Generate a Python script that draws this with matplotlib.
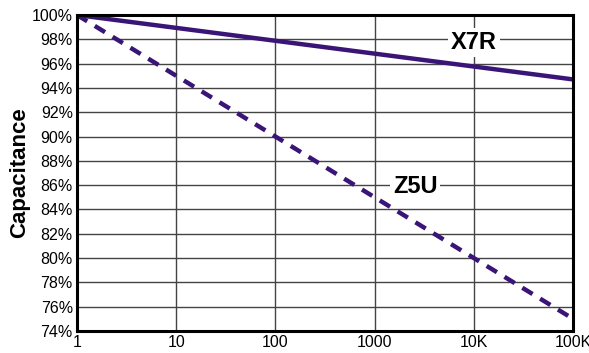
import matplotlib
matplotlib.use("Agg")
import matplotlib.pyplot as plt
from matplotlib.ticker import FixedLocator, FixedFormatter, NullLocator

# Data
hours = [1, 100000]
x7r = [100.0, 94.7]
z5u = [100.0, 75.0]
x_ticks = [1, 10, 100, 1000, 10000, 100000]
x_tick_labels = ["1", "10", "100", "1000", "10K", "100K"]
y_ticks = list(range(74, 101, 2))
y_tick_labels = [f"{v}%" for v in y_ticks]

plt.rcParams["font.family"] = ["Liberation Sans", "DejaVu Sans"]
line_color = "#3a1577"

fig = plt.figure(figsize=(5.89, 3.53), dpi=100)
ax = fig.add_axes([0.1307, 0.0623, 0.8423, 0.8952])

ax.plot(hours, x7r, color=line_color, lw=3.2, solid_capstyle="butt", zorder=3)
ax.plot(hours, z5u, color=line_color, lw=3.2, linestyle=(0, (2.7, 2.0)),
        dash_capstyle="butt", zorder=3)

ax.set_xscale("log")
ax.set_xlim(1, 100000)
ax.set_ylim(74, 100)
ax.xaxis.set_major_locator(FixedLocator(x_ticks))
ax.xaxis.set_major_formatter(FixedFormatter(x_tick_labels))
ax.xaxis.set_minor_locator(NullLocator())
ax.set_yticks(y_ticks)
ax.set_yticklabels(y_tick_labels)
ax.tick_params(length=0, labelsize=11.5, pad=3)

ax.grid(True, color="#444444", lw=1.0, zorder=1)
for s in ax.spines.values():
    s.set_linewidth(2.2)
    s.set_color("black")
    s.set_zorder(4)

box = dict(facecolor="white", edgecolor="none", pad=2)
ax.text(10000, 97.75, "X7R", fontsize=17, fontweight="bold", ha="center",
        va="center", bbox=box, zorder=5)
ax.text(2570, 85.9, "Z5U", fontsize=17, fontweight="bold", ha="center",
        va="center", bbox=box, zorder=5)

ax.set_ylabel("Capacitance", fontsize=16, fontweight="bold", labelpad=1)

fig.savefig("out.png", dpi=100)
